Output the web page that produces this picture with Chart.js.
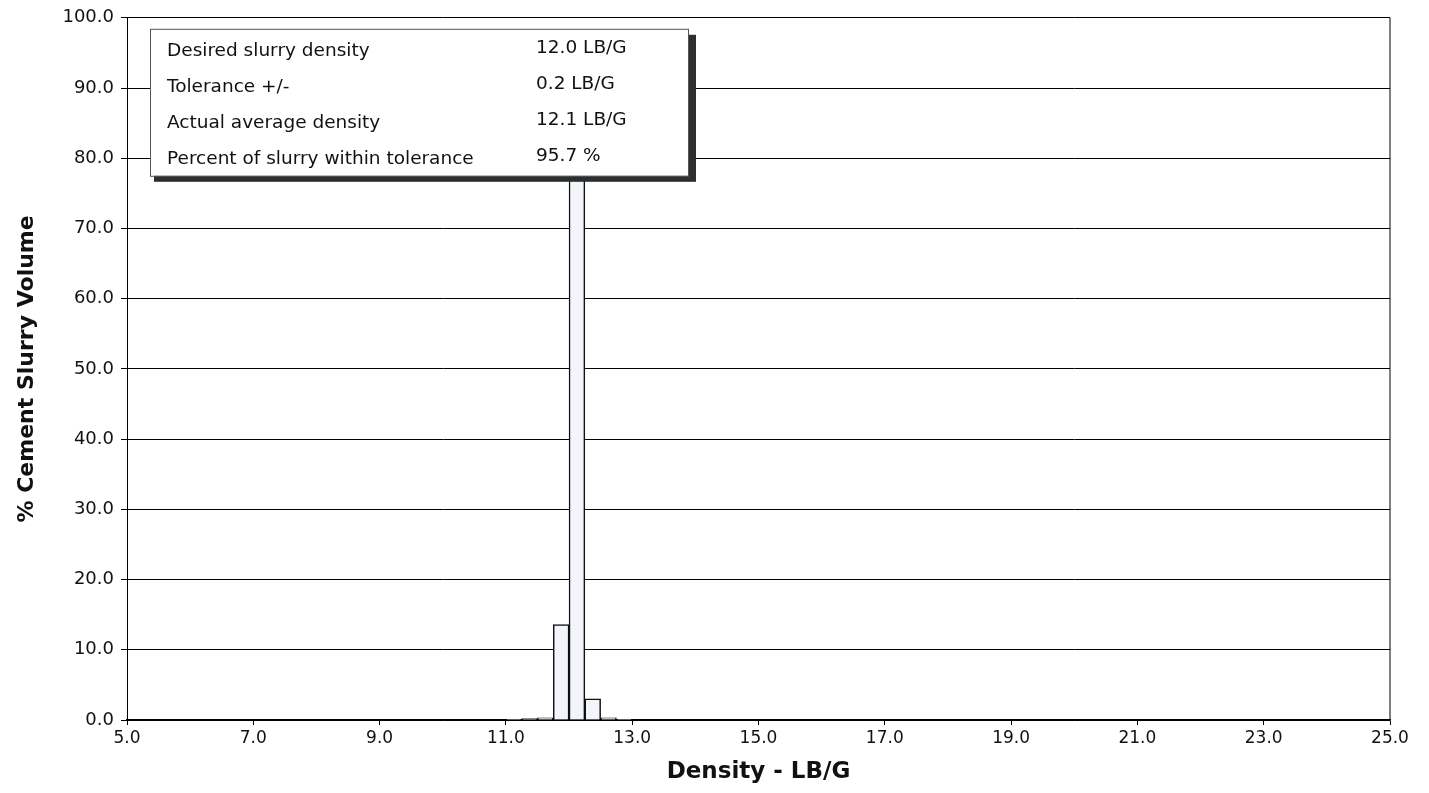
<!DOCTYPE html>
<html>
<head>
<meta charset="utf-8">
<script src="https://cdn.jsdelivr.net/npm/chart.js@4/dist/chart.umd.min.js"></script>
<style>
  html, body { margin: 0; padding: 0; background: #fff; }
  #wrap { width: 1429px; height: 793px; }
</style>
</head>
<body>
<div id="wrap"><canvas id="density-chart" width="1429" height="793"></canvas></div>
<script>
// histogram bins (0.25 LB/G wide), centre of each bin
const binCenters = [11.125, 11.375, 11.625, 11.875, 12.125, 12.375, 12.625, 12.875];
const volumePct = [0.1, 0.2, 0.3, 13.6, 82.0, 3.0, 0.3, 0.1];

const infoLabels = ['Desired slurry density', 'Tolerance +/-', 'Actual average density', 'Percent of slurry within tolerance'];
const infoValues = ['12.0 LB/G', '0.2 LB/G', '12.1 LB/G', '95.7 %'];

const FONT = 'DejaVu Sans, Verdana, sans-serif';

// summary box + right border of the plot
const infoBox = {
    id: 'infoBox',
    beforeDatasetsDraw(chart) {
        const a = chart.chartArea;
        const ctx = chart.ctx;
        ctx.save();
        ctx.strokeStyle = '#000';
        ctx.lineWidth = 1;
        ctx.beginPath();
        ctx.moveTo(a.right, a.top);
        ctx.lineTo(a.right, a.bottom);
        ctx.stroke();
        ctx.restore();
    },
    afterDraw(chart) {
        const a = chart.chartArea;
        const ctx = chart.ctx;
        const x = a.left + 23, y = a.top + 11, w = 538, h = 147;
        ctx.save();
        ctx.fillStyle = '#2b2f2e';
        ctx.fillRect(x + 4, y + 6, w + 4, h);
        ctx.fillStyle = '#fff';
        ctx.fillRect(x, y, w, h);
        ctx.strokeStyle = '#555';
        ctx.lineWidth = 1;
        ctx.strokeRect(x + 0.5, y + 0.5, w, h);
        ctx.fillStyle = '#111';
        ctx.font = '18.5px ' + FONT;
        ctx.textBaseline = 'middle';
        infoLabels.forEach((t, i) => {
            const ry = y + 22 + i * 36;
            ctx.fillText(t, x + 17, ry);
            ctx.fillText(infoValues[i], x + 386, ry - 3);
        });
        ctx.restore();
    }
};

document.addEventListener('DOMContentLoaded', () => {
    const ctx = document.getElementById('density-chart').getContext('2d');
    new Chart(ctx, {
        type: 'bar',
        data: {
            datasets: [{
                data: binCenters.map((c, i) => ({ x: c, y: volumePct[i] })),
                backgroundColor: '#f3f5fa',
                borderColor: '#111',
                borderWidth: 1.5,
                categoryPercentage: 1.0,
                barPercentage: 1.0
            }]
        },
        options: {
            responsive: false,
            animation: false,
            layout: { padding: { top: 11, right: 39, left: 0, bottom: 0 } },
            plugins: {
                legend: { display: false },
                tooltip: { enabled: false }
            },
            scales: {
                x: {
                    type: 'linear',
                    min: 5,
                    max: 25,
                    offset: false,
                    grid: { display: true, drawOnChartArea: false, offset: false, tickLength: 5, color: '#000' },
                    border: { display: true, color: '#000', width: 1.5 },
                    ticks: {
                        stepSize: 2,
                        padding: 3,
                        color: '#111',
                        font: { family: FONT, size: 17 },
                        maxRotation: 0,
                        callback: v => v.toFixed(1)
                    },
                    title: {
                        display: true,
                        text: 'Density - LB/G',
                        color: '#111',
                        font: { family: FONT, size: 23, weight: 'bold' },
                        padding: { top: 0, bottom: 7 }
                    },
                    afterFit: s => { s.height = 73; }
                },
                y: {
                    min: 0,
                    max: 100,
                    grid: { color: '#000', lineWidth: 1, tickLength: 6 },
                    border: { display: true, color: '#000', width: 1 },
                    ticks: {
                        stepSize: 10,
                        padding: 7,
                        color: '#111',
                        font: { family: FONT, size: 18 },
                        callback: v => v.toFixed(1)
                    },
                    title: {
                        display: true,
                        text: '% Cement Slurry Volume',
                        color: '#111',
                        font: { family: FONT, size: 22, weight: 'bold' },
                        padding: { top: 14, bottom: 0 }
                    },
                    afterFit: s => { s.width = 127; }
                }
            }
        },
        plugins: [infoBox]
    });
});
</script>
</body>
</html>
